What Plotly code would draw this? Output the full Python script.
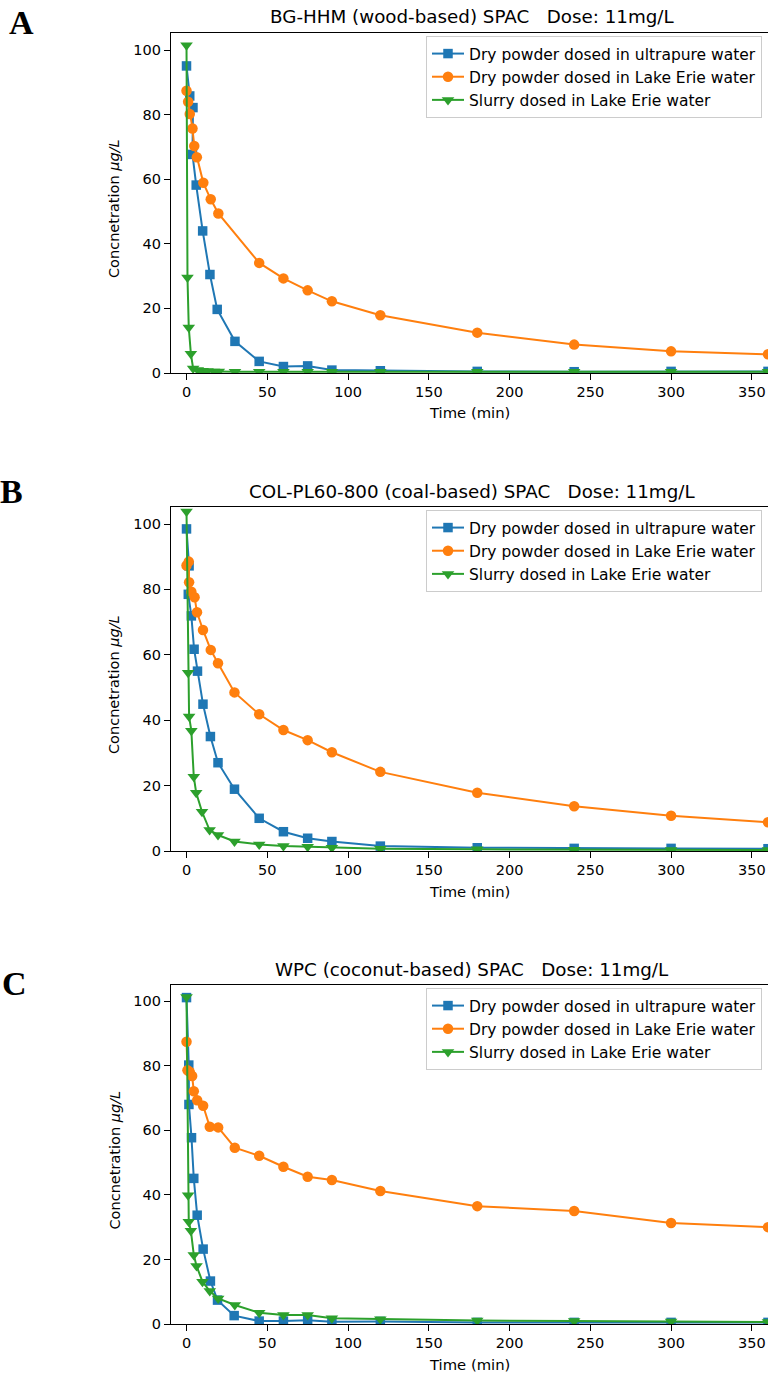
import plotly.graph_objects as go

# ---------------- data ----------------
series_names = ["Dry powder dosed in ultrapure water",
                "Dry powder dosed in Lake Erie water",
                "Slurry dosed in Lake Erie water"]
panel_titles = ["BG-HHM (wood-based) SPAC   Dose: 11mg/L",
                "COL-PL60-800 (coal-based) SPAC   Dose: 11mg/L",
                "WPC (coconut-based) SPAC   Dose: 11mg/L"]
panel_letters = ["A", "B", "C"]
x_ticks = [0, 50, 100, 150, 200, 250, 300, 350]
y_ticks = [0, 20, 40, 60, 80, 100]

# Panel A
a_up_t = [0, 2, 4, 3.7, 6, 10, 14.5, 19, 30, 45, 60, 75, 90, 120, 180, 240, 300, 360]
a_up_v = [95.1, 85.8, 82.2, 67.7, 58.2, 44.0, 30.5, 19.7, 9.8, 3.6, 2.0, 2.2, 0.9, 0.7, 0.5, 0.4, 0.5, 0.5]
a_le_t = [0, 1, 2, 3.7, 4.8, 6.4, 10.4, 15, 19.7, 45, 60, 75, 90, 120, 180, 240, 300, 360]
a_le_v = [87.4, 84.0, 80.2, 75.7, 70.3, 66.8, 58.9, 53.8, 49.4, 34.1, 29.3, 25.6, 22.2, 17.9, 12.5, 8.8, 6.7, 5.8]
a_sl_t = [0, 0.6, 1.4, 2.7, 4.1, 7, 10, 13, 17, 20, 30, 45, 60, 75, 90, 120, 180, 240, 300, 360]
a_sl_v = [101.5, 29.6, 14.1, 6.0, 1.4, 0.9, 0.7, 0.6, 0.5, 0.5, 0.4, 0.4, 0.4, 0.4, 0.4, 0.4, 0.4, 0.4, 0.4, 0.4]

# Panel B
b_up_t = [0, 1.6, 1.1, 3, 4.7, 6.8, 10.2, 14.8, 19.5, 29.7, 45, 60, 75, 90, 120, 180, 240, 300, 360]
b_up_v = [98.5, 87.2, 78.5, 71.9, 61.7, 55.0, 44.9, 35.0, 27.0, 18.9, 10.0, 5.9, 3.9, 2.9, 1.5, 1.0, 0.8, 0.8, 0.7]
b_le_t = [0, 1.4, 1.6, 3, 5, 6.5, 10.2, 15, 19.5, 29.7, 45, 60, 75, 90, 120, 180, 240, 300, 360]
b_le_v = [87.3, 88.5, 82.2, 79.3, 77.6, 73.0, 67.6, 61.5, 57.4, 48.5, 41.8, 37.0, 33.9, 30.2, 24.2, 17.8, 13.7, 10.8, 8.8]
b_sl_t = [0, 1, 1.6, 3, 4.5, 6, 9.6, 14.3, 19.5, 29.7, 45, 60, 75, 90, 120, 180, 240, 300, 360]
b_sl_v = [103.8, 54.5, 41.1, 36.8, 22.7, 17.8, 12.0, 6.4, 4.9, 2.9, 2.0, 1.5, 1.3, 1.0, 0.7, 0.5, 0.4, 0.3, 0.3]

# Panel C
c_up_t = [0, 1.4, 1.5, 3.1, 4.5, 6.6, 10.3, 14.8, 19.2, 29.5, 45, 60, 75, 90, 120, 180, 240, 300, 360]
c_up_v = [101.1, 80.2, 68.0, 57.7, 45.1, 33.7, 23.2, 13.3, 7.4, 2.6, 0.9, 0.9, 1.2, 0.7, 0.8, 0.5, 0.5, 0.5, 0.5]
c_le_t = [0, 0.6, 2, 3.5, 4.5, 6.6, 10.3, 14.4, 19.6, 29.9, 45, 60, 75, 90, 120, 180, 240, 300, 360]
c_le_v = [87.4, 78.6, 78.1, 76.8, 72.1, 69.3, 67.6, 61.1, 60.9, 54.6, 52.1, 48.7, 45.6, 44.6, 41.2, 36.5, 35.0, 31.3, 30.0]
c_sl_t = [0, 1, 1.4, 2.7, 4.5, 6.2, 9.9, 14.4, 19.6, 29.9, 45, 60, 75, 90, 120, 180, 240, 300, 360]
c_sl_v = [101.3, 39.9, 31.7, 28.9, 21.4, 18.0, 13.1, 10.2, 7.9, 5.9, 3.5, 2.8, 2.8, 1.8, 1.5, 1.1, 0.9, 0.8, 0.6]

panels = [
    [(a_up_t, a_up_v), (a_le_t, a_le_v), (a_sl_t, a_sl_v)],
    [(b_up_t, b_up_v), (b_le_t, b_le_v), (b_sl_t, b_sl_v)],
    [(c_up_t, c_up_v), (c_le_t, c_le_v), (c_sl_t, c_sl_v)],
]

# ---------------- style / layout ----------------
W, H = 768, 1376
FONT = "DejaVu Sans"
colors = ["#1f77b4", "#ff7f0e", "#2ca02c"]
symbols = ["square", "circle", "triangle-down"]
msizes = [9.5, 10.5, 11]
ax_top = [33, 507, 985]
ax_bot = [373, 851, 1324]
ax_left = 171
x_range = [-9.6, 360]
y_top = [105.3, 105.2, 105.0]

fig = go.Figure()
annotations = []
layout = dict(
    width=W, height=H,
    margin=dict(l=0, r=0, t=0, b=0),
    paper_bgcolor="white", plot_bgcolor="white",
    font=dict(family=FONT, size=14.5, color="black"),
    showlegend=True,
)

for p in range(3):
    sfx = "" if p == 0 else str(p + 1)
    leg = "legend" + sfx
    for s in range(3):
        t, v = panels[p][s]
        fig.add_trace(go.Scatter(
            x=t, y=v, mode="lines+markers", name=series_names[s],
            line=dict(color=colors[s], width=2),
            marker=dict(symbol=symbols[s], size=msizes[s], color=colors[s], line=dict(width=0)),
            xaxis="x" + sfx, yaxis="y" + sfx, legend=leg,
        ))
    yd = [1 - ax_bot[p] / H, 1 - ax_top[p] / H]
    layout["xaxis" + sfx] = dict(
        domain=[ax_left / W, 1], range=x_range, anchor="y" + sfx,
        tickvals=x_ticks, ticks="outside", ticklen=6, tickwidth=1.1, tickcolor="black",
        showline=True, linecolor="black", linewidth=1.1, mirror=True,
        showgrid=False, zeroline=False, tickfont=dict(size=14.5),
        automargin=False,
    )
    layout["yaxis" + sfx] = dict(
        domain=yd, range=[0, y_top[p]], anchor="x" + sfx,
        tickvals=y_ticks, ticks="outside", ticklen=6, tickwidth=1.1, tickcolor="black",
        showline=True, linecolor="black", linewidth=1.1, mirror=False,
        showgrid=False, zeroline=False, tickfont=dict(size=14.5),
        automargin=False,
    )
    layout[leg] = dict(
        x=762 / W, xanchor="right", y=1 - (ax_top[p] + 3) / H, yanchor="top",
        bgcolor="rgba(255,255,255,0.8)", bordercolor="#cccccc", borderwidth=1,
        font=dict(family=FONT, size=15.5, color="black"),
        itemwidth=32, tracegroupgap=0,
    )
    annotations.append(dict(
        text=panel_titles[p], xref="paper", yref="paper",
        x=472 / W, y=1 - (ax_top[p] - 16) / H, xanchor="center", yanchor="middle",
        showarrow=False, font=dict(family=FONT, size=18.3, color="black"),
    ))
    annotations.append(dict(
        text="<b>" + panel_letters[p] + "</b>", xref="paper", yref="paper",
        x=[21, 11, 14][p] / W, y=1 - (ax_top[p] - [11, 16, 2][p]) / H,
        xanchor="center", yanchor="middle", showarrow=False,
        font=dict(family="Liberation Serif", size=34, color="black"),
    ))
    annotations.append(dict(
        text="Time (min)", xref="paper", yref="paper",
        x=469 / W, y=1 - (ax_bot[p] + 40) / H,
        xanchor="center", yanchor="middle", showarrow=False,
        font=dict(family=FONT, size=14.8, color="black"),
    ))
    annotations.append(dict(
        text="Concnetration <i>μg/L</i>", xref="paper", yref="paper",
        x=114 / W, y=1 - ((ax_top[p] + ax_bot[p]) / 2 + 6) / H,
        xanchor="center", yanchor="middle", textangle=-90, showarrow=False,
        font=dict(family=FONT, size=14.5, color="black"),
    ))

layout["annotations"] = annotations
fig.update_layout(**layout)
fig.write_html("out.html")
